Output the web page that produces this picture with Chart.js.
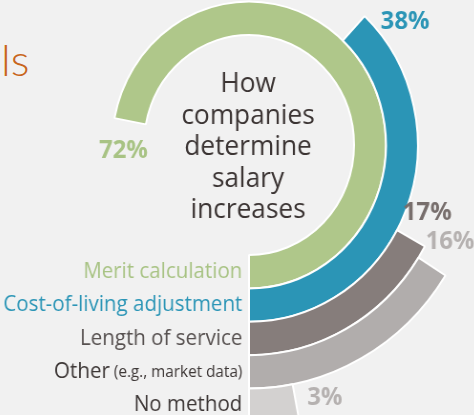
<!DOCTYPE html>
<html>
<head>
<meta charset="utf-8">
<script src="https://cdn.jsdelivr.net/npm/chart.js@4.4.0/dist/chart.umd.min.js"></script>
<style>
  html, body { margin: 0; padding: 0; background: #f1f1f1; overflow: hidden; width: 474px; height: 415px; }
  #title { position: absolute; left: 1px; top: 37px; font-family: Lato, sans-serif; font-weight: 300; font-size: 44px; line-height: 44px; color: #c8651b; }
  #wrap { position: absolute; left: -29px; top: -133px; width: 556px; height: 556px; transform: scaleX(0.955); transform-origin: 278px 278px; }
</style>
</head>
<body>
<div id="title">ls</div>
<div id="wrap"><canvas id="salaryChart" width="556" height="556"></canvas></div>
<script>
// rings from outside to inside
var categories = ['No method', 'Other', 'Length of service', 'Cost-of-living adjustment', 'Merit calculation'];
var categoryNotes = ['', ' (e.g., market data)', '', '', ''];
var shares = [3, 16, 17, 38, 72];
var percentLabels = ['3%', '16%', '17%', '38%', '72%'];
var ringColors = ['#d3d1d0', '#b1adac', '#867d7b', '#2b95b6', '#afc78a'];
var labelColors = ['#3d3736', '#3d3736', '#575150', '#2b95b6', '#a8c384'];
var percentColors = ['#b5b1b0', '#b5b1b0', '#776e6c', '#2b95b6', '#a8c384'];
var centerLines = ['How', 'companies', 'determine', 'salary', 'increases'];

var fontName = '"Open Sans", sans-serif';
// where the percentage goes: past the arc end, or outside the ring beside the end
var percentPlacement = ['past', 'past', 'past', 'outside', 'past'];

// texts round the rings
var ringText = {
  id: 'ringText',
  afterDatasetsDraw: function (chart) {
    var ctx = chart.ctx;
    ctx.save();
    var cx = 0, cy = 0;
    chart.data.datasets.forEach(function (ds, i) {
      var arc = chart.getDatasetMeta(i).data[1];
      cx = arc.x; cy = arc.y;
      var rMid = (arc.innerRadius + arc.outerRadius) / 2;

      // category name at the bottom end of the ring
      var x = cx - 7, y = cy + rMid;
      ctx.textAlign = 'right';
      ctx.textBaseline = 'middle';
      ctx.fillStyle = labelColors[i];
      if (categoryNotes[i]) {
        ctx.font = '16px ' + fontName;
        ctx.fillText(categoryNotes[i], x, y + 1);
        x -= ctx.measureText(categoryNotes[i]).width;
      }
      ctx.font = '21.5px ' + fontName;
      ctx.fillText(categories[i], x, y);

      // percentage near the end of the arc
      var a, r;
      if (percentPlacement[i] === 'outside') {
        a = arc.startAngle + 30 / arc.outerRadius;
        r = arc.outerRadius + 28;
      } else {
        a = arc.startAngle - 30 / rMid;
        r = rMid + 5;
      }
      ctx.textAlign = 'center';
      ctx.font = 'bold 25px ' + fontName;
      ctx.fillStyle = percentColors[i];
      ctx.fillText(percentLabels[i], cx + r * Math.cos(a), cy + r * Math.sin(a));
    });

    // title in the middle
    ctx.textAlign = 'center';
    ctx.textBaseline = 'alphabetic';
    ctx.font = '27.5px ' + fontName;
    ctx.fillStyle = '#3b3433';
    centerLines.forEach(function (line, j) {
      ctx.fillText(line, cx - 1, cy - 53 + j * 31.5);
    });
    ctx.restore();
  }
};

var ctx = document.getElementById('salaryChart').getContext('2d');

var datasets = shares.map(function (v, i) {
  return {
    label: categories[i],
    data: [100 - v, v],
    backgroundColor: ['rgba(0,0,0,0)', ringColors[i]],
    borderColor: ['rgba(0,0,0,0)', '#ffffff'],
    borderWidth: [0, 2],
    hoverOffset: 0
  };
});

var salaryChart = new Chart(ctx, {
  type: 'doughnut',
  data: { labels: ['rest', 'share'], datasets: datasets },
  options: {
    responsive: false,
    animation: false,
    events: [],
    rotation: 180,
    cutout: 110,
    layout: { padding: 0 },
    plugins: {
      legend: { display: false },
      tooltip: { enabled: false }
    }
  },
  plugins: [ringText]
});
</script>
</body>
</html>
